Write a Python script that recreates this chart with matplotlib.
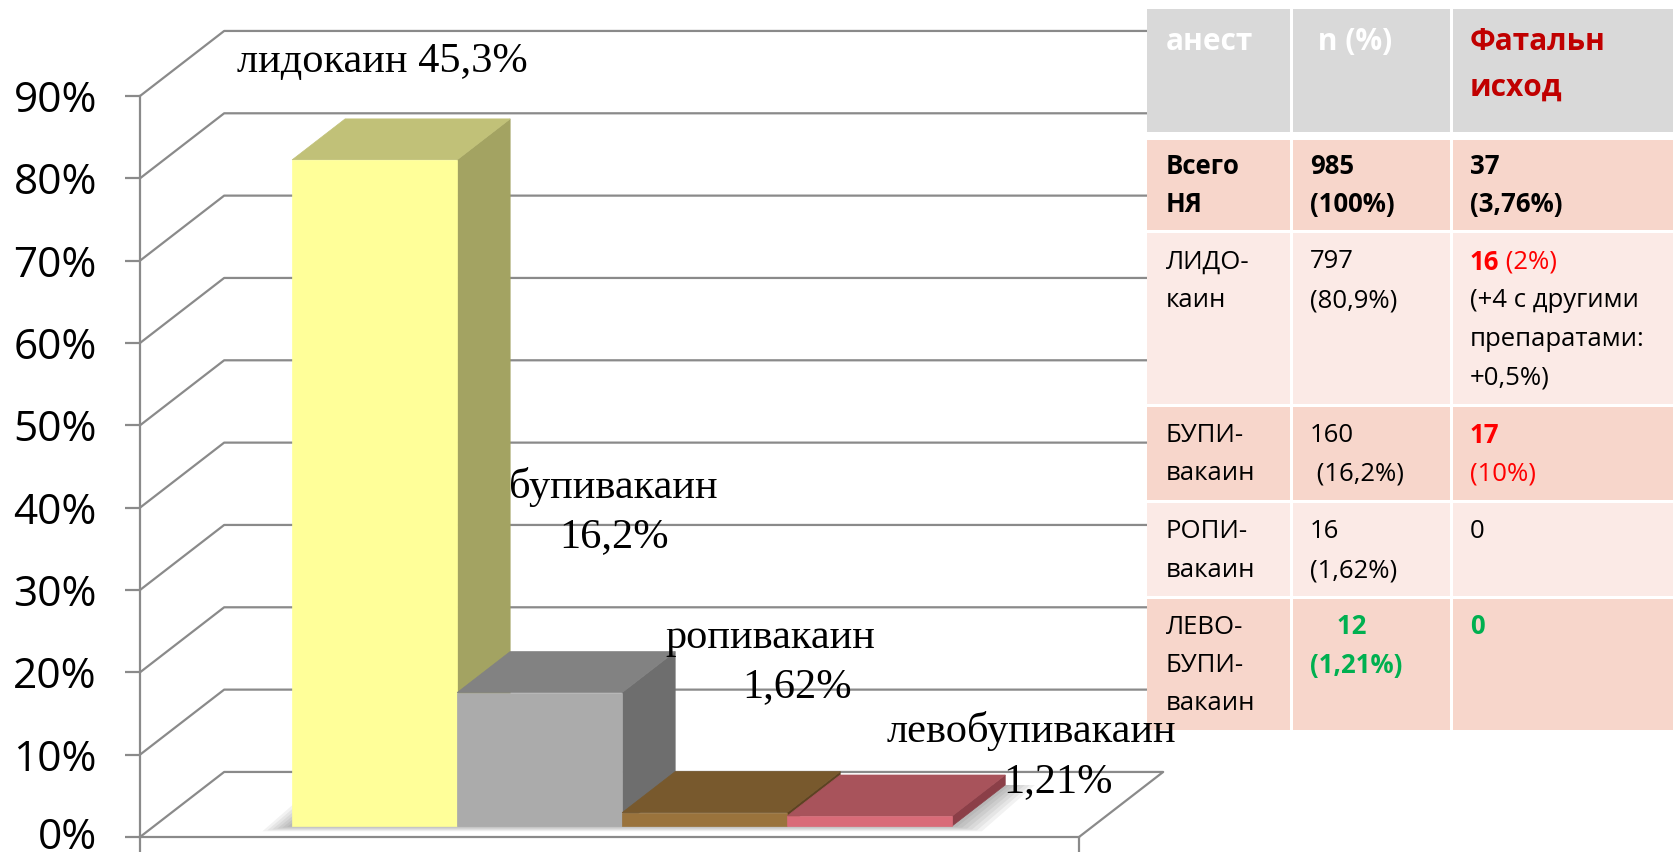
import matplotlib
matplotlib.use("Agg")
import matplotlib.pyplot as plt
import matplotlib.transforms as mtransforms
from matplotlib.patches import Polygon, Rectangle

plt.rcParams['font.family'] = ['Open Sans', 'DejaVu Sans']

# Chart data
drugs = ["лидокаин", "бупивакаин", "ропивакаин", "левобупивакаин"]
shares = [80.9, 16.2, 1.62, 1.21]
label_lines = [["лидокаин 45,3%"], ["бупивакаин", "16,2%"], ["ропивакаин", "1,62%"],
               ["левобупивакаин", "1,21%"]]
yticks = [0, 10, 20, 30, 40, 50, 60, 70, 80, 90]

# Table data
tbl_header = ["анест", " n (%)", "Фатальн\nисход"]
tbl_names = ["Всего\nНЯ", "ЛИДО-\nкаин", "БУПИ-\nвакаин", "РОПИ-\nвакаин", "ЛЕВО-\nБУПИ-\nвакаин"]
tbl_counts = ["985\n(100%)", "797\n(80,9%)", "160\n (16,2%)", "16\n(1,62%)", "    12\n(1,21%)"]
tbl_fatal = ["37\n(3,76%)", "16", "17\n(10%)", "0", "0"]

W, H = 1674, 856
fig = plt.figure(figsize=(W / 100, H / 100), dpi=100)

# pseudo-3D geometry (in data units)
XMAX = 5.69       # floor width in category units
DX, DY = 0.51, 7.9  # full depth offset of the back wall
F0, BD = 0.17, 0.63  # bars start at this depth and are this deep
X0 = 0.835          # first bar left edge
grid_c = "#8a8a8a"

ax = fig.add_axes([140 / W, (H - 837) / H, (1079 - 140) / W, (837 - 96) / H])
ax.set_xlim(0, XMAX)
ax.set_ylim(0, 90)
for s in ["top", "right"]:
    ax.spines[s].set_visible(False)
for s in ["left", "bottom"]:
    ax.spines[s].set_color(grid_c)
    ax.spines[s].set_linewidth(1.6)
ax.set_yticks(yticks)
ax.set_yticklabels([f"{v}%" for v in yticks], fontsize=30.5)
ax.tick_params(axis="y", direction="out", length=11, width=1.6, color=grid_c, pad=20)
# nudge the bottom label a little so it stays inside the canvas
lbl0 = ax.get_yticklabels()[0]
lbl0.set_transform(lbl0.get_transform() +
                   mtransforms.ScaledTranslation(0, 4 / 100, fig.dpi_scale_trans))
ax.set_xticks([0, XMAX])
ax.set_xticklabels([])
ax.tick_params(axis="x", direction="out", length=11, width=1.6, color=grid_c)


def P(x, y, d):
    return (x + d * DX, y + d * DY)


# back wall gridlines
for v in yticks:
    xs = [0, DX, XMAX + DX]
    ys = [v, v + DY, v + DY]
    if v == 0:
        xs.append(XMAX)
        ys.append(0)
    ax.plot(xs, ys, color=grid_c, lw=1.6, clip_on=False, zorder=1)

faces = [("#ffff99", "#c1c178", "#a3a362"),
         ("#ababab", "#828282", "#6e6e6e"),
         ("#9a733c", "#78592d", "#5c4322"),
         ("#d96b78", "#a8535b", "#8b3f48")]

# soft shadow on the floor
for k in range(6):
    e = 0.012 * (k + 1)
    xl, xr = X0 - e * 2.5, X0 + len(shares) + e * 2.5
    pts = [P(xl, -e * 9, F0), P(xr, -e * 9, F0), P(xr, 0, F0 + BD), P(xl, 0, F0 + BD)]
    ax.add_patch(Polygon(pts, closed=True, fc="#000000", ec="none", alpha=0.05,
                         clip_on=False, zorder=2))

for i, v in enumerate(shares):
    x0, x1 = X0 + i, X0 + i + 1
    d0, d1 = F0, F0 + BD
    fc, tc, sc = faces[i]
    side = [P(x1, 0, d0), P(x1, 0, d1), P(x1, v, d1), P(x1, v, d0)]
    top = [P(x0, v, d0), P(x1, v, d0), P(x1, v, d1), P(x0, v, d1)]
    front = [P(x0, 0, d0), P(x1, 0, d0), P(x1, v, d0), P(x0, v, d0)]
    for pts, c in [(side, sc), (top, tc), (front, fc)]:
        ax.add_patch(Polygon(pts, closed=True, fc=c, ec=c, lw=0.5, clip_on=False, zorder=3))

# table (pixel layout)
tax = fig.add_axes([0, 0, 1, 1], zorder=5)
tax.set_xlim(0, W)
tax.set_ylim(H, 0)
tax.axis("off")
tax.patch.set_alpha(0)

col_x = [1147, 1290, 1450, 1674]
row_y = [9, 132, 140, 230, 233, 404, 407, 500, 503, 596, 599, 730]
gap = 3
row_fill = ["#d9d9d9", "#f7d6cb", "#fbeae6", "#f7d6cb", "#fbeae6", "#f7d6cb"]
for r in range(6):
    y0, y1 = row_y[2 * r], row_y[2 * r + 1]
    for c in range(3):
        xa = col_x[c] + (gap if c > 0 else 0)
        xb = col_x[c + 1]
        tax.add_patch(Rectangle((xa, y0), xb - xa, y1 - y0, fc=row_fill[r], ec="none"))

line_h = 38.5
tfs = 18.5
text_x = [1166, 1310, 1470]
first_line = [42, 166, 262, 435, 532, 627]

red, dred, green = "#ff0000", "#c00000", "#00b050"


def cell(c, r, s, color="black", weight="normal", fs=tfs, lh=line_h):
    for j, ln in enumerate(s.split("\n")):
        tax.text(text_x[c], first_line[r] + j * lh, ln, fontsize=fs, color=color,
                 weight=weight, va="center", ha="left", zorder=6)


cell(0, 0, tbl_header[0], "white", "bold", fs=21.5)
cell(1, 0, tbl_header[1], "white", "bold", fs=21.5)
cell(2, 0, tbl_header[2], dred, "bold", fs=21.5, lh=46)
for r in range(5):
    row = r + 1
    if r == 0:
        cell(0, row, tbl_names[r], weight="bold")
        cell(1, row, tbl_counts[r], weight="bold")
        cell(2, row, tbl_fatal[r], weight="bold")
    elif r == 4:
        cell(0, row, tbl_names[r])
        cell(1, row, tbl_counts[r], green, "bold")
        cell(2, row, tbl_fatal[r], green, "bold")
    else:
        cell(0, row, tbl_names[r])
        cell(1, row, tbl_counts[r])
        if r == 1:
            t = tax.text(text_x[2], first_line[row], tbl_fatal[r], fontsize=tfs, color=red,
                         weight="bold", va="center", ha="left", zorder=6)
            tax.annotate(" (2%)", xy=(1, 0.5), xycoords=t, va="center", ha="left",
                         fontsize=tfs, color=red, zorder=6)
            cell(2, row, "\n(+4 с другими\nпрепаратами:\n+0,5%)")
        elif r == 2:
            a, b = tbl_fatal[r].split("\n")
            tax.text(text_x[2], first_line[row], a, fontsize=tfs, color=red, weight="bold",
                     va="center", ha="left", zorder=6)
            tax.text(text_x[2], first_line[row] + line_h, b, fontsize=tfs, color=red,
                     va="center", ha="left", zorder=6)
        else:
            cell(2, row, tbl_fatal[r])

# data labels (drawn above the table)
label_pos = [[(1.47, 94.1)], [(2.87, 42.5), (2.87, 36.4)], [(3.82, 24.2), (3.98, 18.2)],
             [(5.40, 12.9), (5.56, 6.7)]]
for lines, poss in zip(label_lines, label_pos):
    for s, (lx, ly) in zip(lines, poss):
        tax.text(lx, ly, s, transform=ax.transData, fontsize=30.5, family="Liberation Serif",
                 ha="center", va="center", zorder=7)

fig.savefig("out.png", dpi=100)
